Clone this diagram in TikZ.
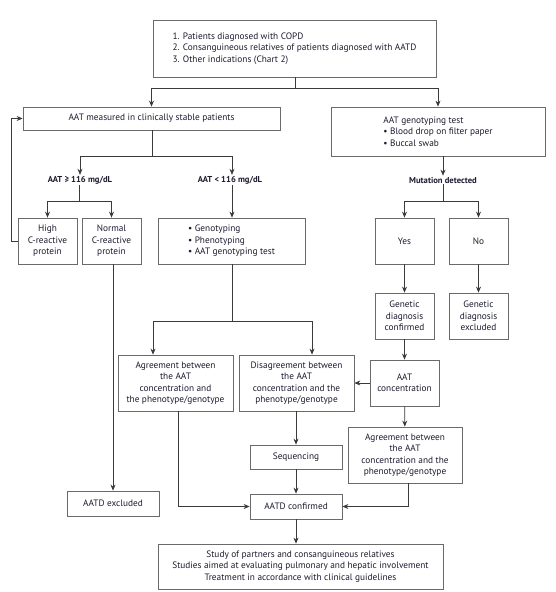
\documentclass[tikz,border=0pt]{standalone}
\usepackage{fontspec}
\setmainfont{PT Sans}
\usetikzlibrary{arrows.meta,calc}
\definecolor{boxgray}{HTML}{6A6A6A}
\definecolor{linegray}{HTML}{3A3A3A}
\definecolor{txt}{HTML}{1C1C30}
\tikzset{
  box/.style={draw=boxgray, line width=0.8pt, inner sep=0pt, align=center, text=txt,
    font=\fontsize{9.3}{11.4}\selectfont},
  lbl/.style={inner sep=1pt, text=txt, font=\fontsize{8.6}{10}\selectfont\bfseries},
  conn/.style={draw=linegray, line width=0.7pt},
  arr/.style={conn, -{Stealth[length=6pt,width=5pt]}},
}
\begin{document}
\begin{tikzpicture}[x=1pt,y=-1pt]
\useasboundingbox[fill=white] (0,0) rectangle (555,592);

\node[box, minimum width=283, minimum height=57, align=left] (top) at (294.5,48.5)
  {1. Patients diagnosed with COPD\\2. Consanguineous relatives of patients diagnosed with AATD\\3. Other indications (Chart 2)};
\node[box, minimum width=257, minimum height=23] (meas) at (151.5,118.5) {AAT measured in clinically stable patients};
\node[box, minimum width=214, minimum height=49, align=left] (gent) at (438,131.5)
  {AAT genotyping test\\\textbullet\ Blood drop on filter paper\\\textbullet\ Buccal swab};

\node[lbl] (ge) at (80,180) {AAT ≥ 116 mg/dL};
\node[lbl] (lt) at (230,180) {AAT < 116 mg/dL};
\node[lbl] (mut) at (443,180) {Mutation detected};

\node[box, minimum width=59, minimum height=46] (high) at (47.5,241) {High\\C-reactive\\protein};
\node[box, minimum width=59, minimum height=46] (normal) at (111.5,241) {Normal\\C-reactive\\protein};
\node[box, minimum width=147, minimum height=46, align=left] (geno) at (231.5,241)
  {\textbullet\ Genotyping\\\textbullet\ Phenotyping\\\textbullet\ AAT genotyping test};
\node[box, minimum width=59, minimum height=46] (yes) at (404.5,241) {Yes};
\node[box, minimum width=59, minimum height=46] (no) at (478.5,241) {No};
\node[box, minimum width=59, minimum height=46] (gconf) at (404.5,316) {Genetic\\diagnosis\\confirmed};
\node[box, minimum width=59, minimum height=46] (gexcl) at (478.5,316) {Genetic\\diagnosis\\excluded};

\node[box, minimum width=115, minimum height=56] (agl) at (175.5,383)
  {Agreement between\\the AAT\\concentration and\\the phenotype/genotype};
\node[box, minimum width=115, minimum height=56] (dis) at (296.5,383)
  {Disagreement between\\the AAT\\concentration and the\\phenotype/genotype};
\node[box, minimum width=69, minimum height=46] (conc) at (404.5,383) {AAT\\concentration};
\node[box, minimum width=114, minimum height=56] (agr) at (405,455)
  {Agreement between\\the AAT\\concentration and the\\phenotype/genotype};
\node[box, minimum width=92, minimum height=24] (seq) at (296,457) {Sequencing};
\node[box, minimum width=92, minimum height=25] (conf) at (296,506.5) {AATD confirmed};
\node[box, minimum width=92, minimum height=25] (excl) at (113,503.5) {AATD excluded};
\node[box, minimum width=285, minimum height=45] (final) at (300.5,566.5)
  {Study of partners and consanguineous relatives\\Studies aimed at evaluating pulmonary and hepatic involvement\\Treatment in accordance with clinical guidelines};

% top split
\coordinate (j1) at (295,88);
\draw[conn] (top.south -| j1) -- (j1);
\draw[arr] (j1) -| (meas.north);
\draw[arr] (j1) -| (gent.north);

% measured split
\coordinate (j2) at (152,156);
\draw[conn] (meas.south -| j2) -- (j2);
\draw[arr] (j2) -| (ge.north);
\draw[arr] (j2) -| (lt.north -| 232,0);

% >= split
\coordinate (j3) at (79,201);
\draw[conn] (ge.south -| j3) -- (j3);
\draw[arr] (j3) -| (high.north);
\draw[arr] (j3) -| (normal.north);

% < to genotyping
\draw[arr] (lt.south -| 232,0) -- (geno.north -| 232,0);

% feedback
\draw[arr] (high.west) -- ++(-6,0) |- (meas.west);

% genotyping test to mutation
\draw[arr] (gent.south -| mut) -- (mut.north);
\coordinate (j5) at (443,201);
\draw[conn] (mut.south -| j5) -- (j5);
\draw[arr] (j5) -| (yes.north);
\draw[arr] (j5) -| (no.north);
\draw[arr] (yes) -- (gconf);
\draw[arr] (no) -- (gexcl);
\draw[arr] (gconf) -- (conc);
\draw[arr] (conc.west) -- (dis.east);
\draw[arr] (conc) -- (agr);

% genotyping split
\coordinate (j4) at (232,321);
\draw[conn] (geno.south -| j4) -- (j4);
\draw[arr] (j4) -| ([xshift=-22.5pt]agl.north);
\draw[arr] (j4) -| ([xshift=15.5pt]dis.north);

% lower
\draw[arr] (normal.south -| excl.north) -- (excl.north);
\draw[arr] (dis.south -| seq.north) -- (seq.north);
\draw[arr] (seq) -- (conf);
\draw[arr] ([xshift=2.5pt]agl.south) |- (conf.west);
\draw[arr] ([xshift=3pt]agr.south) |- (conf.east);
\draw[arr] (conf.south) -- (conf.south |- final.north);
\end{tikzpicture}
\end{document}
